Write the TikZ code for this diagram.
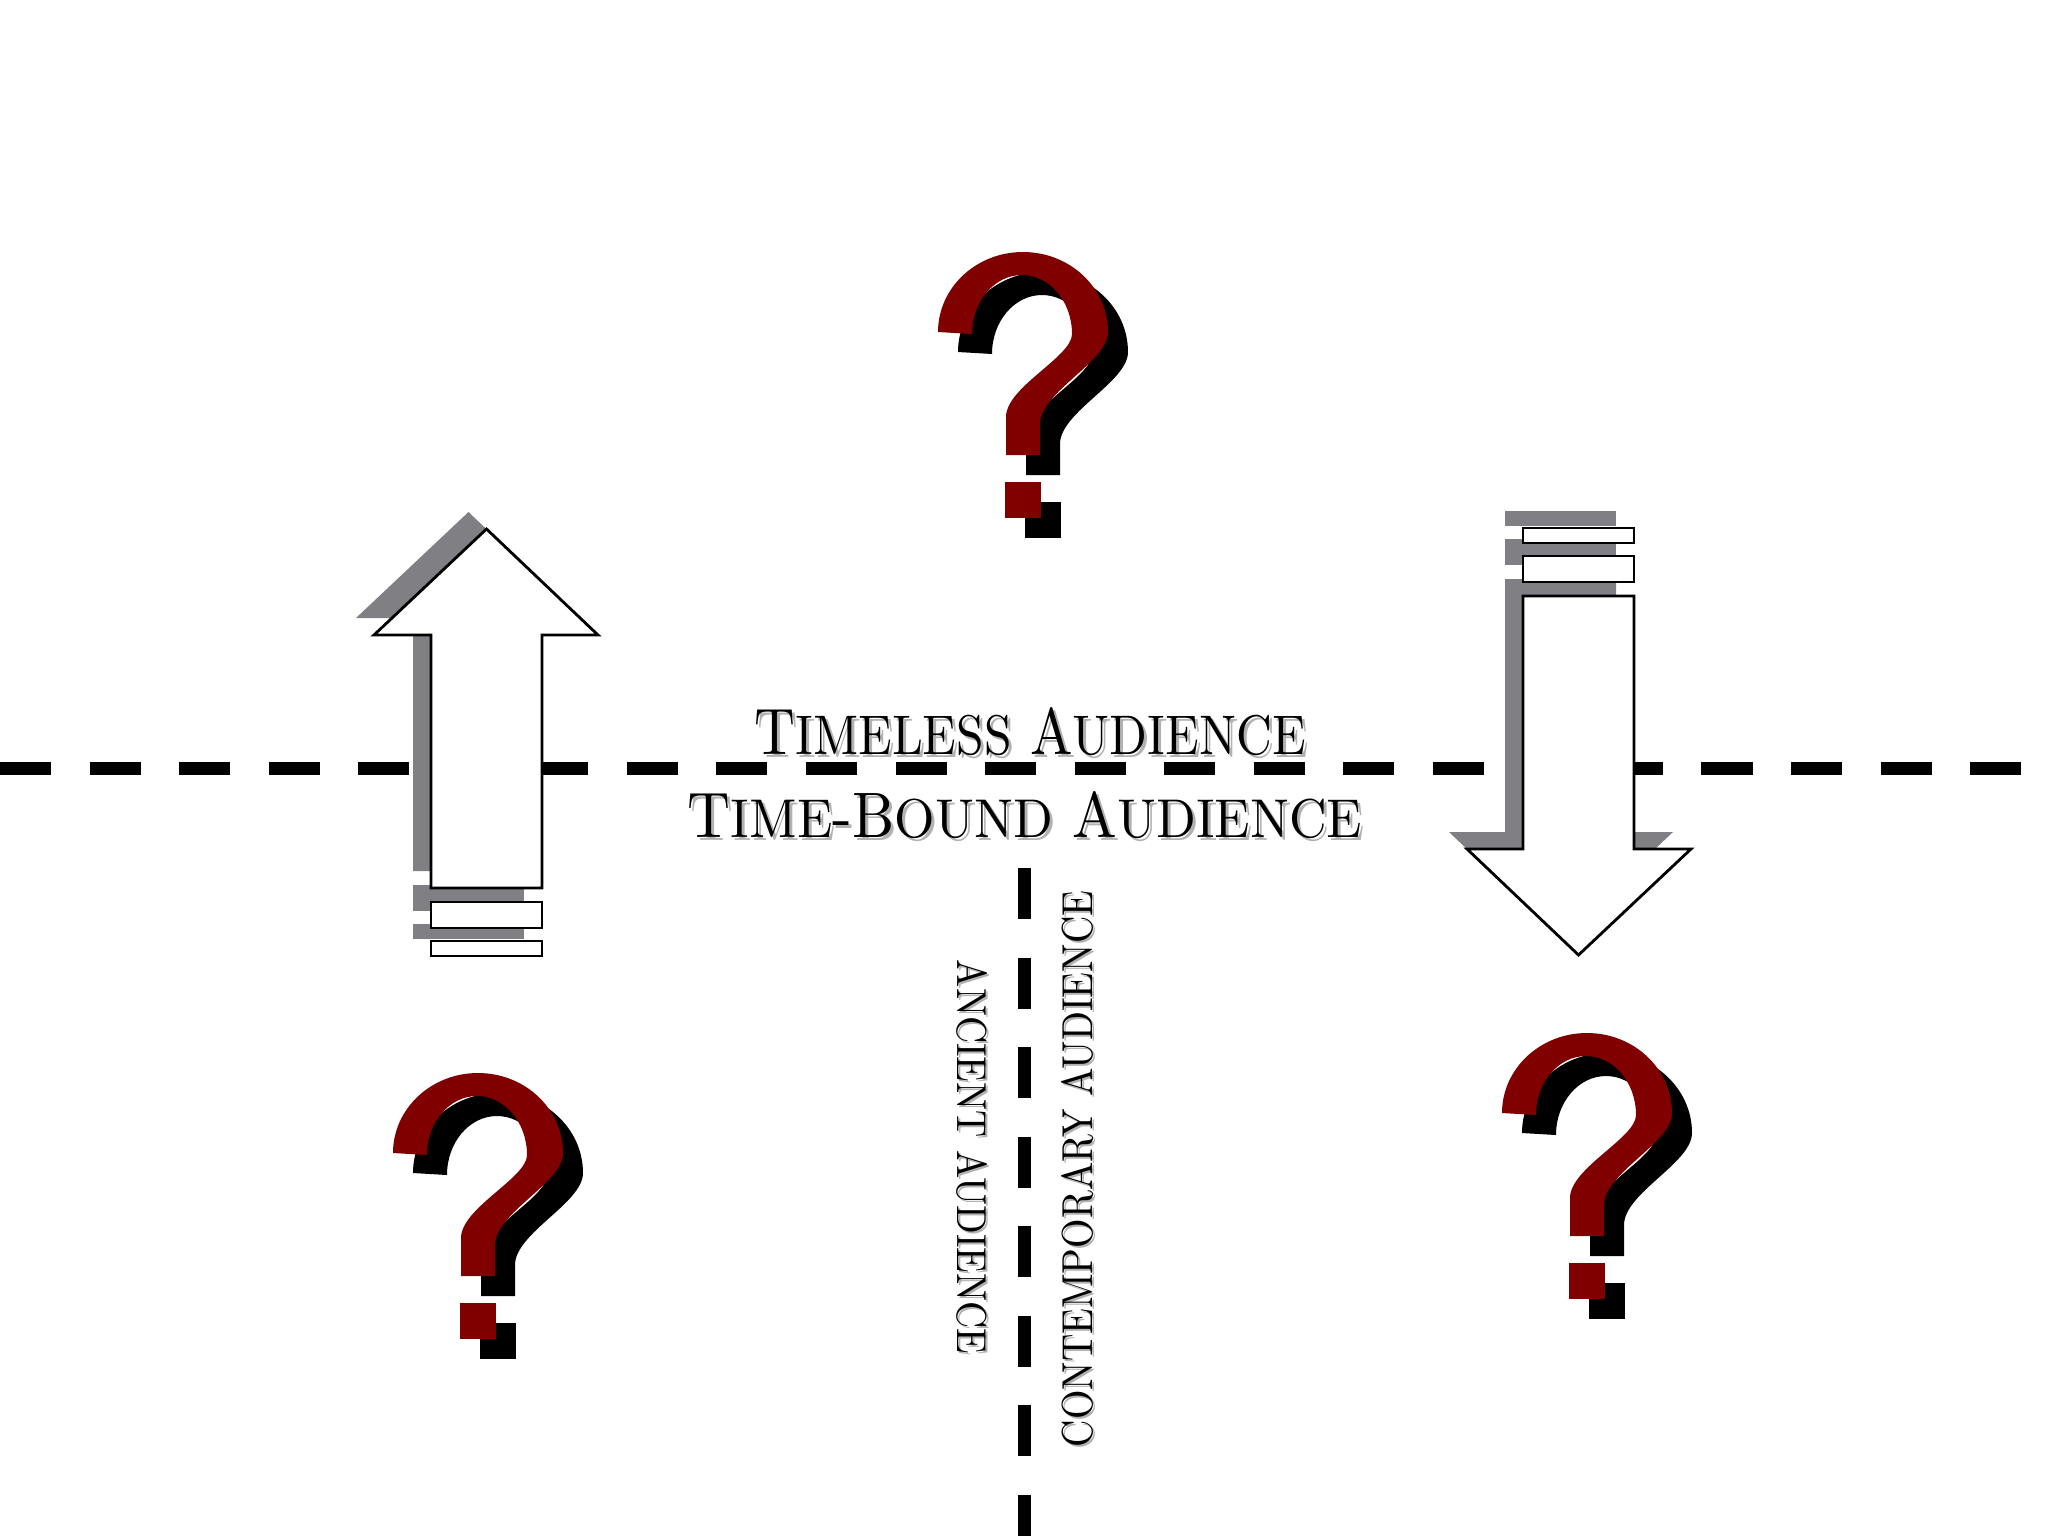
\documentclass[tikz,border=0pt]{standalone}
\usepackage{amsmath}
\usepackage{graphicx}
\usepackage{tikz}
\usetikzlibrary{calc}
\usepackage{color}

\definecolor{qred}{RGB}{128,0,0}
\definecolor{shadowgray}{RGB}{128,127,131}

\tikzset{
  divider/.style={line width=0.13cm, dash pattern=on 0.51cm off 0.385cm},
  arrowbody/.style={draw=black, fill=white, line width=0.8pt},
  arrowshade/.style={fill=shadowgray},
  lbl/.style={inner sep=0pt, anchor=base},
  lblshade/.style={inner sep=0pt, anchor=base, text=black!30},
  vlbl/.style={inner sep=0pt},
  vlblshade/.style={inner sep=0pt, text=black!30}
}

% smaller capitals after the first letter of a word
\newcommand{\lowcap}[1]{{\fontsize{8.5}{10}\selectfont #1}}
\newcommand{\timelesstext}{T\lowcap{IMELESS} A\lowcap{UDIENCE}}
\newcommand{\boundtext}{T\lowcap{IME}-B\lowcap{OUND} A\lowcap{UDIENCE}}

% one question mark, drawn in local pixels (y going down)
\newcommand{\qhook}[1]{%
  \fill[#1] (0,80) arc[start angle=180, end angle=360, x radius=85, y radius=80]
    .. controls (170,110) and (102,140) .. (102,172) -- (102,203) -- (68,203) -- (68,165)
    .. controls (68,135) and (134,105) .. (134,82)
    arc[start angle=0, end angle=-180, x radius=50, y radius=59] -- cycle;
  \fill[#1] (67,230) rectangle (103,266);
}
% red mark with its black shadow, #1,#2 = top left corner
\newcommand{\askmark}[2]{%
  \begin{scope}[shift={(#1+20,#2+20)}]\qhook{black}\end{scope}
  \begin{scope}[shift={(#1,#2)}]\qhook{qred}\end{scope}
}
% the striped arrow pointing down, origin at the top left of the first bar
\newcommand{\stripearrow}[1]{%
  \path[#1] (0,0) rectangle (111,15);
  \path[#1] (0,28) rectangle (111,54);
  \path[#1] (0,68) -- (111,68) -- (111,321) -- (168,321) -- (55.5,427)
    -- (-56,321) -- (0,321) -- cycle;
}

\begin{document}
\begin{tikzpicture}[x=0.01cm, y=-0.01cm]
    \useasboundingbox (0,0) rectangle (2048,1536);

    % the two dividing lines
    \coordinate (hleft) at (0,768);
    \coordinate (hright) at (2048,768);
    \coordinate (vtop) at (1024,868);
    \coordinate (vbottom) at (1024,1536);
    \draw[divider] (hleft) -- (hright);
    \draw[divider] (vtop) -- (vbottom);

    % the arrows (shadows first)
    \begin{scope}[shift={(524,939)}, rotate=180]\stripearrow{arrowshade}\end{scope}
    \begin{scope}[shift={(1505,511)}]\stripearrow{arrowshade}\end{scope}
    \begin{scope}[shift={(542,956)}, rotate=180]\stripearrow{arrowbody}\end{scope}
    \begin{scope}[shift={(1523,528)}]\stripearrow{arrowbody}\end{scope}

    % the texts
    \node[lblshade] (timelessS) at (1033,757) {\resizebox{5.51cm}{0.47cm}{\timelesstext}};
    \node[lbl] (timeless) at (1030,754) {\resizebox{5.51cm}{0.47cm}{\timelesstext}};
    \node[lblshade] (boundS) at (1028,840) {\resizebox{6.74cm}{0.46cm}{\boundtext}};
    \node[lbl] (bound) at (1025,837) {\resizebox{6.74cm}{0.46cm}{\boundtext}};
    \node[vlblshade, rotate=-90] (ancientS) at (974,1159) {\resizebox{3.94cm}{0.30cm}{ANCIENT AUDIENCE}};
    \node[vlbl, rotate=-90] (ancient) at (972,1157) {\resizebox{3.94cm}{0.30cm}{ANCIENT AUDIENCE}};
    \node[vlblshade, rotate=90] (contemporaryS) at (1079,1171) {\resizebox{5.56cm}{0.31cm}{CONTEMPORARY AUDIENCE}};
    \node[vlbl, rotate=90] (contemporary) at (1077,1169) {\resizebox{5.56cm}{0.31cm}{CONTEMPORARY AUDIENCE}};

    % the question marks
    \askmark{938}{252}
    \askmark{393}{1073}
    \askmark{1502}{1033}
\end{tikzpicture}
\end{document}
